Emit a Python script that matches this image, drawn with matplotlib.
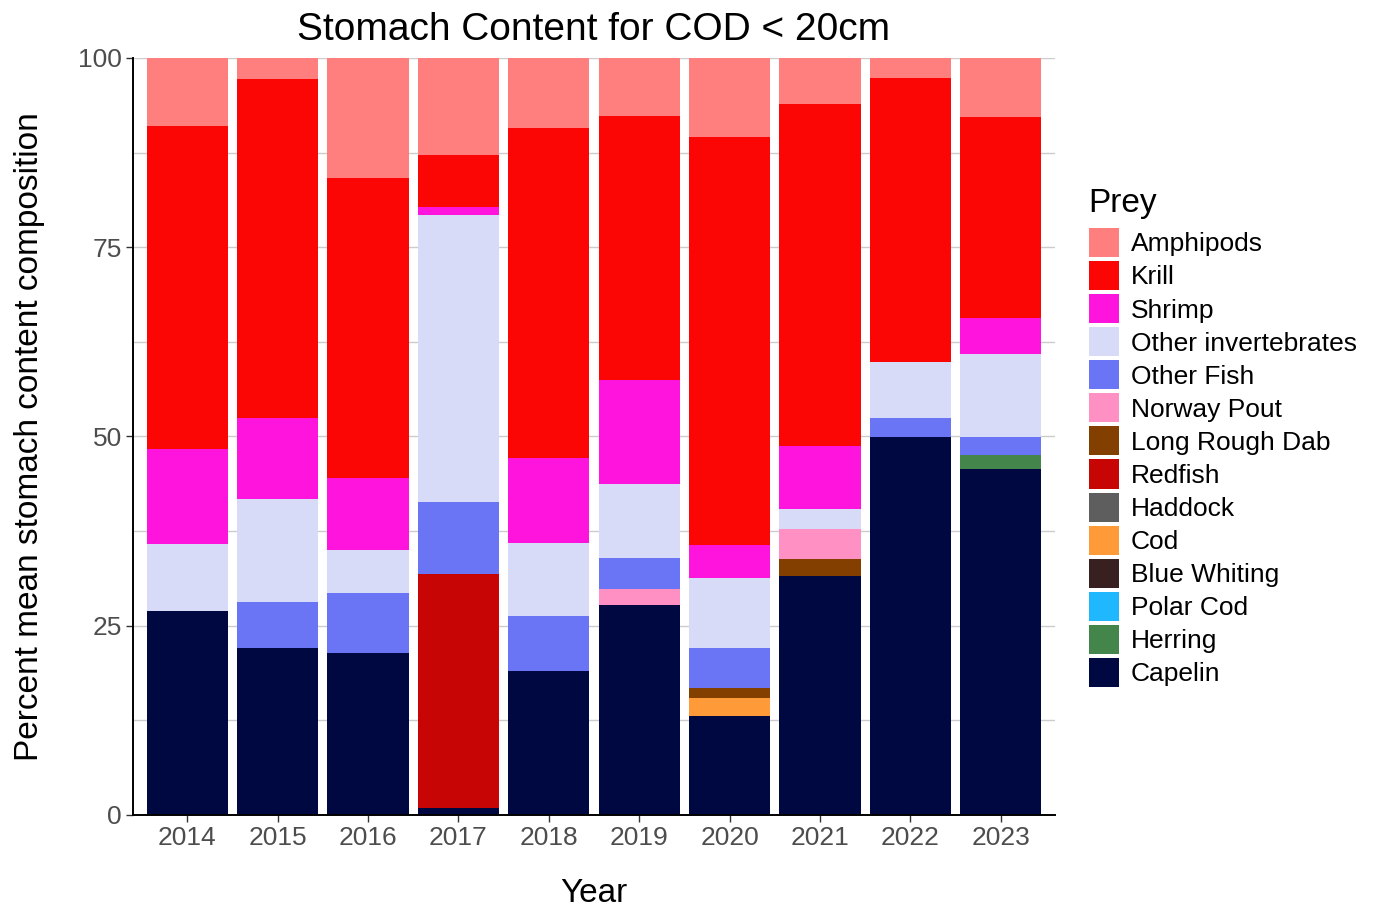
import matplotlib
matplotlib.use("Agg")
import matplotlib.pyplot as plt
from matplotlib.patches import Patch
import numpy as np

plt.rcParams['font.family'] = ['Liberation Sans', 'DejaVu Sans']

years = ["2014", "2015", "2016", "2017", "2018", "2019", "2020", "2021", "2022", "2023"]

# stacking order bottom -> top
prey = ["Capelin", "Herring", "Polar Cod", "Blue Whiting", "Cod", "Haddock", "Redfish",
        "Long Rough Dab", "Norway Pout", "Other Fish", "Other invertebrates", "Shrimp",
        "Krill", "Amphipods"]

colors = {
    "Amphipods": "#FF7F7F",
    "Krill": "#FB0505",
    "Shrimp": "#FF14DE",
    "Other invertebrates": "#D8DBF8",
    "Other Fish": "#6A75F5",
    "Norway Pout": "#FF90C3",
    "Long Rough Dab": "#833F00",
    "Redfish": "#C70505",
    "Haddock": "#5E5E5E",
    "Cod": "#FF9A38",
    "Blue Whiting": "#382020",
    "Polar Cod": "#1FB8FF",
    "Herring": "#43854A",
    "Capelin": "#000842",
}

capelin      = [26.9, 22.0, 21.4, 0.9, 19.0, 27.7, 13.1, 31.6, 49.9, 45.7]
herring      = [0, 0, 0, 0, 0, 0, 0, 0, 0, 1.8]
polar_cod    = [0, 0, 0, 0, 0, 0, 0, 0, 0, 0]
blue_whiting = [0, 0, 0, 0, 0, 0, 0, 0, 0, 0]
cod          = [0, 0, 0, 0, 0, 0, 2.3, 0, 0, 0]
haddock      = [0, 0, 0, 0, 0, 0, 0, 0, 0, 0]
redfish      = [0, 0, 0, 30.9, 0, 0, 0, 0, 0, 0]
long_rough_dab = [0, 0, 0, 0, 0, 0, 1.4, 2.2, 0, 0]
norway_pout  = [0, 0, 0, 0, 0, 2.1, 0, 4.0, 0, 0]
other_fish   = [0, 6.2, 7.9, 9.6, 7.3, 4.1, 5.3, 0, 2.5, 2.4]
other_inv    = [8.9, 13.5, 5.7, 37.9, 9.6, 9.8, 9.2, 2.6, 7.5, 11.0]
shrimp       = [12.6, 10.7, 9.5, 1.0, 11.2, 13.8, 4.4, 8.4, 0, 4.7]
krill        = [42.6, 44.8, 39.7, 6.9, 43.7, 34.9, 53.8, 45.1, 37.4, 26.6]
amphipods    = [9.0, 2.8, 15.8, 12.8, 9.2, 7.6, 10.5, 6.1, 2.7, 7.8]

series = {
    "Capelin": capelin, "Herring": herring, "Polar Cod": polar_cod,
    "Blue Whiting": blue_whiting, "Cod": cod, "Haddock": haddock,
    "Redfish": redfish, "Long Rough Dab": long_rough_dab,
    "Norway Pout": norway_pout, "Other Fish": other_fish,
    "Other invertebrates": other_inv, "Shrimp": shrimp,
    "Krill": krill, "Amphipods": amphipods,
}

fig = plt.figure(figsize=(13.78, 9.19), dpi=100)
ax = fig.add_axes([0.0965, 0.1132, 0.6691, 0.8237])

x = np.arange(len(years))
bottom = np.zeros(len(years))
for p in prey:
    vals = np.array(series[p], dtype=float)
    ax.bar(x, vals, bottom=bottom, width=0.9, color=colors[p], linewidth=0)
    bottom = bottom + vals

ax.set_xlim(-0.6, len(years) - 0.4)
ax.set_ylim(0, 100)
ax.set_xticks(x)
ax.set_xticklabels(years)
ax.set_yticks([0, 25, 50, 75, 100])
ax.set_yticks([12.5, 37.5, 62.5, 87.5], minor=True)
ax.tick_params(axis='y', which='minor', length=0)
ax.grid(axis='y', which='both', color='#CCCCCC', linewidth=1.0)
ax.set_axisbelow(True)
for s in ['top', 'right']:
    ax.spines[s].set_visible(False)
for s in ['left', 'bottom']:
    ax.spines[s].set_color('black')
    ax.spines[s].set_linewidth(1.4)
ax.tick_params(axis='both', which='major', labelsize=19, labelcolor='#4D4D4D',
               color='#333333', length=5, width=1, pad=3)

ax.set_title("Stomach Content for COD < 20cm", fontsize=28, pad=13)
ax.set_xlabel("Year", fontsize=24, labelpad=20)
ax.set_ylabel("Percent mean stomach content composition", fontsize=24, labelpad=24)

legend_order = list(reversed(prey))
handles = [Patch(facecolor=colors[p], edgecolor='none') for p in legend_order]
fig.text(1088 / 1378, 1 - 212 / 919, "Prey", fontsize=24, ha='left', va='baseline')
leg = fig.legend(handles, legend_order, loc='upper left',
                 bbox_to_anchor=(1089 / 1378, 1 - 228 / 919), frameon=False, fontsize=19,
                 handlelength=1.14, handleheight=1.32, borderpad=0,
                 labelspacing=0.15, handletextpad=0.45, borderaxespad=0)

fig.savefig("out.png", dpi=100)
